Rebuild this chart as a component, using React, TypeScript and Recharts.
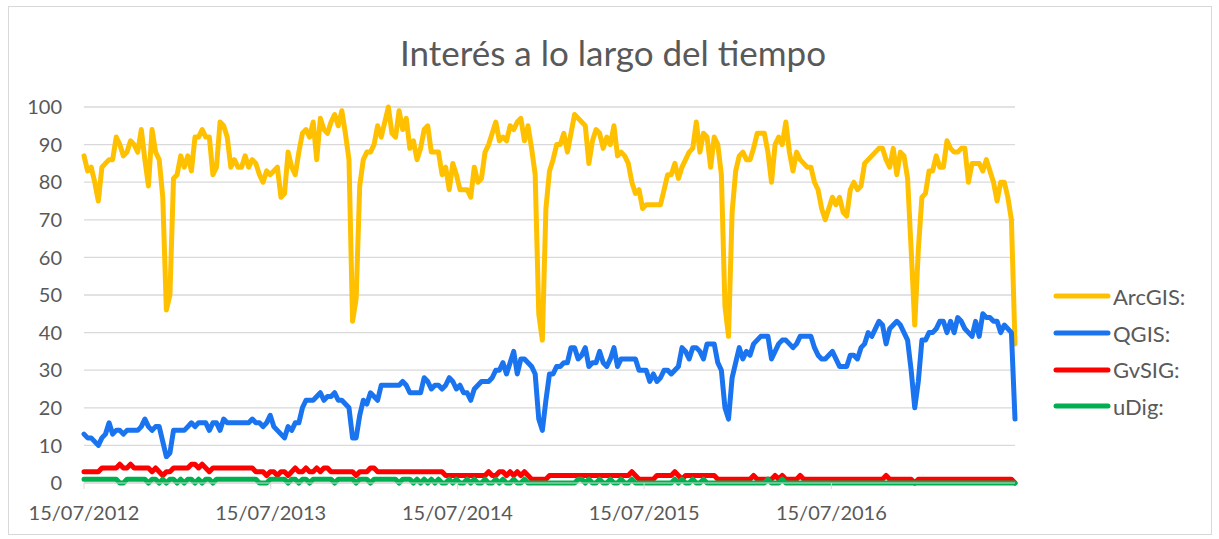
import React from 'react';
import { LineChart, Line, XAxis, YAxis, CartesianGrid } from 'recharts';

// weekly Google Trends style values, first week = 15/07/2012
const arcgis = [
  87, 83, 84, 80, 75, 84, 85, 86, 86, 92, 90, 87, 88, 91, 90, 88, 94, 86, 79, 94,
  88, 86, 76, 46, 50, 81, 82, 87, 84, 87, 83, 92, 92, 94, 92, 92, 82, 84, 96, 95,
  92, 84, 86, 84, 84, 87, 84, 86, 85, 82, 80, 83, 82, 83, 84, 76, 77, 88, 84, 82,
  88, 93, 94, 92, 96, 86, 97, 94, 93, 96, 98, 95, 99, 93, 86, 43, 49, 79, 86, 88,
  88, 90, 95, 92, 96, 100, 93, 92, 99, 94, 97, 89, 91, 86, 89, 94, 95, 88, 88, 88,
  82, 84, 78, 85, 82, 78, 78, 78, 76, 84, 80, 81, 88, 90, 93, 96, 91, 92, 91, 95,
  94, 96, 97, 91, 95, 89, 82, 45, 38, 73, 83, 86, 90, 90, 93, 88, 93, 98, 97, 96,
  95, 85, 91, 94, 93, 89, 92, 90, 95, 87, 88, 87, 85, 80, 77, 78, 73, 74, 74, 74,
  74, 74, 78, 82, 82, 85, 81, 84, 86, 88, 89, 96, 88, 93, 92, 84, 92, 90, 82, 47,
  39, 72, 83, 87, 88, 86, 86, 89, 93, 93, 93, 88, 80, 90, 92, 90, 96, 88, 83, 88,
  86, 85, 84, 84, 80, 78, 73, 70, 73, 76, 74, 76, 72, 71, 78, 80, 78, 79, 85, 86,
  87, 88, 89, 89, 86, 84, 89, 82, 88, 87, 81, 62, 42, 62, 76, 77, 83, 83, 87, 84,
  84, 91, 89, 88, 88, 89, 89, 80, 85, 85, 85, 83, 86, 83, 80, 75, 80, 80, 76, 70,
  37,
];

const qgis = [
  13, 12, 12, 11, 10, 12, 13, 16, 13, 14, 14, 13, 14, 14, 14, 14, 15, 17, 15, 14,
  15, 15, 11, 7, 8, 14, 14, 14, 14, 15, 16, 15, 16, 16, 16, 14, 16, 16, 14, 17,
  16, 16, 16, 16, 16, 16, 16, 17, 16, 16, 15, 16, 18, 15, 14, 13, 12, 15, 14, 16,
  16, 20, 22, 22, 22, 23, 24, 22, 23, 23, 24, 22, 22, 21, 20, 12, 12, 18, 22, 21,
  24, 23, 22, 26, 26, 26, 26, 26, 26, 27, 26, 24, 24, 24, 24, 28, 27, 25, 26, 26,
  25, 26, 28, 27, 25, 26, 24, 24, 22, 25, 26, 27, 27, 27, 28, 30, 30, 32, 29, 32,
  35, 29, 33, 33, 32, 31, 29, 17, 14, 22, 29, 29, 31, 31, 32, 32, 36, 36, 33, 34,
  36, 31, 32, 32, 35, 32, 31, 33, 36, 31, 33, 33, 33, 33, 33, 30, 30, 30, 27, 29,
  27, 28, 30, 30, 29, 30, 31, 36, 35, 33, 36, 36, 35, 33, 37, 37, 37, 32, 30, 20,
  17, 28, 32, 36, 33, 35, 34, 37, 38, 39, 39, 39, 33, 35, 37, 38, 38, 37, 36, 37,
  39, 39, 39, 39, 36, 34, 33, 33, 34, 35, 33, 31, 31, 31, 34, 34, 33, 36, 37, 40,
  39, 41, 43, 42, 37, 41, 42, 43, 42, 40, 38, 30, 20, 27, 38, 38, 40, 40, 41, 43,
  43, 40, 43, 40, 44, 43, 41, 40, 39, 43, 39, 45, 44, 44, 43, 43, 40, 42, 41, 40,
  17,
];

const gvsig = [
  3, 3, 3, 3, 3, 4, 4, 4, 4, 4, 5, 4, 4, 5, 4, 4, 4, 4, 4, 3,
  4, 3, 2, 3, 3, 4, 4, 4, 4, 4, 5, 5, 4, 5, 4, 3, 4, 4, 4, 4,
  4, 4, 4, 4, 4, 4, 4, 4, 3, 3, 3, 2, 3, 3, 2, 3, 3, 2, 3, 4,
  3, 3, 4, 3, 3, 4, 3, 4, 4, 3, 3, 3, 3, 3, 3, 3, 2, 3, 3, 3,
  4, 4, 3, 3, 3, 3, 3, 3, 3, 3, 3, 3, 3, 3, 3, 3, 3, 3, 3, 3,
  3, 2, 2, 2, 2, 2, 2, 2, 2, 2, 2, 2, 2, 3, 2, 2, 3, 3, 2, 3,
  2, 3, 2, 3, 2, 1, 1, 1, 1, 1, 2, 2, 2, 2, 2, 2, 2, 2, 2, 2,
  2, 2, 2, 2, 2, 2, 2, 2, 2, 2, 2, 2, 2, 3, 2, 1, 1, 1, 1, 1,
  2, 2, 2, 2, 2, 3, 2, 1, 2, 2, 2, 2, 2, 2, 2, 2, 2, 1, 1, 1,
  1, 1, 1, 1, 1, 1, 1, 2, 1, 1, 1, 1, 1, 2, 1, 2, 1, 1, 1, 1,
  2, 1, 1, 1, 1, 1, 1, 1, 1, 1, 1, 1, 1, 1, 1, 1, 1, 1, 1, 1,
  1, 1, 1, 1, 2, 1, 1, 1, 1, 1, 1, 1, 0, 1, 1, 1, 1, 1, 1, 1,
  1, 1, 1, 1, 1, 1, 1, 1, 1, 1, 1, 1, 1, 1, 1, 1, 1, 1, 1, 1,
  0,
];

const udig = [
  1, 1, 1, 1, 1, 1, 1, 1, 1, 1, 0, 0, 1, 1, 1, 1, 1, 1, 0, 1,
  1, 0, 1, 0, 1, 1, 0, 1, 0, 1, 1, 0, 1, 0, 1, 1, 0, 1, 1, 1,
  1, 1, 1, 1, 1, 1, 1, 1, 1, 0, 0, 0, 1, 1, 1, 1, 1, 0, 1, 1,
  0, 1, 1, 0, 1, 1, 1, 1, 1, 1, 0, 1, 1, 1, 1, 1, 0, 1, 1, 1,
  0, 1, 1, 1, 1, 1, 1, 1, 0, 1, 1, 1, 0, 1, 0, 1, 0, 1, 0, 1,
  0, 0, 1, 0, 1, 0, 0, 1, 0, 1, 0, 0, 1, 0, 0, 1, 0, 1, 0, 0,
  1, 0, 0, 1, 0, 0, 0, 0, 0, 0, 0, 0, 0, 0, 0, 0, 0, 0, 1, 1,
  0, 1, 0, 0, 1, 0, 0, 1, 0, 0, 1, 0, 0, 1, 0, 0, 0, 0, 0, 0,
  0, 0, 0, 0, 0, 1, 0, 1, 0, 0, 1, 0, 0, 1, 0, 0, 0, 0, 0, 0,
  0, 0, 0, 0, 0, 0, 0, 0, 0, 0, 0, 1, 0, 0, 0, 1, 0, 0, 0, 0,
  0, 0, 0, 0, 0, 0, 0, 0, 0, 0, 0, 0, 0, 0, 0, 0, 0, 0, 0, 0,
  0, 0, 0, 0, 0, 0, 0, 0, 0, 0, 0, 0, 0, 0, 0, 0, 0, 0, 0, 0,
  0, 0, 0, 0, 0, 0, 0, 0, 0, 0, 0, 0, 0, 0, 0, 0, 0, 0, 0, 0,
  0,
];

const firstWeek = '15/07/2012';
const xTickLabels = ['15/07/2012', '15/07/2013', '15/07/2014', '15/07/2015', '15/07/2016'];
const yTicks = [0, 10, 20, 30, 40, 50, 60, 70, 80, 90, 100];

const series = [
  { key: 'arcgis', name: 'ArcGIS:', color: '#FFC000' },
  { key: 'qgis', name: 'QGIS:', color: '#1A74F0' },
  { key: 'gvsig', name: 'GvSIG:', color: '#FF0000' },
  { key: 'udig', name: 'uDig:', color: '#00B050' },
];

const WEEK = 7 * 24 * 3600 * 1000;
const parseDate = (s: string) => {
  const [d, m, y] = s.split('/').map(Number);
  return Date.UTC(y, m - 1, d);
};
const fmtDate = (t: number) => {
  const d = new Date(t);
  const p = (n: number) => String(n).padStart(2, '0');
  return `${p(d.getUTCDate())}/${p(d.getUTCMonth() + 1)}/${d.getUTCFullYear()}`;
};

const t0 = parseDate(firstWeek);
const data = arcgis.map((v, i) => ({
  t: t0 + i * WEEK,
  arcgis: v,
  qgis: qgis[i],
  gvsig: gvsig[i],
  udig: udig[i],
}));
const xTicks = xTickLabels.map(parseDate);

const FONT = 'Lato, "Open Sans", sans-serif';
const TEXT = '#595959';
const GRID = '#D9D9D9';

export default function App() {
  return (
    <div style={{ position: 'absolute', left: 0, top: 0, width: 1219, height: 539, background: '#fff', fontFamily: FONT }}>
      <div style={{ position: 'absolute', left: 8, top: 6, width: 1202, height: 527, border: `1px solid ${GRID}` }} />
      <div style={{ position: 'absolute', left: 0, top: 30, width: 1226, textAlign: 'center', fontSize: 35, color: TEXT, lineHeight: '44px', fontWeight: 400 }}>
        Interés a lo largo del tiempo
      </div>
      <div style={{ position: 'absolute', left: 0, top: 0 }}>
        <LineChart width={1219} height={539} data={data} margin={{ top: 107, right: 204, bottom: 16, left: 24 }}>
          <CartesianGrid vertical={false} stroke={GRID} strokeWidth={1.3} />
          <XAxis
            dataKey="t"
            type="number"
            scale="time"
            domain={[data[0].t, data[data.length - 1].t]}
            ticks={xTicks}
            tickFormatter={fmtDate}
            height={40}
            stroke={GRID}
            tickSize={6}
            tickMargin={17}
            tick={{ fill: TEXT, fontSize: 20, fontFamily: FONT }}
            interval={0}
          />
          <YAxis
            domain={[0, 100]}
            ticks={yTicks}
            width={60}
            axisLine={false}
            tickLine={false}
            tickSize={6}
            tickMargin={16}
            tick={{ fill: TEXT, fontSize: 20, fontFamily: FONT }}
            interval={0}
          />
          {series.map((s) => (
            <Line
              key={s.key}
              dataKey={s.key}
              name={s.name}
              stroke={s.color}
              strokeWidth={5}
              strokeLinejoin="round"
              strokeLinecap="round"
              dot={false}
              activeDot={false}
              type="linear"
              isAnimationActive={false}
            />
          ))}
        </LineChart>
      </div>
      <div style={{ position: 'absolute', left: 1052, top: 278 }}>
        {series.map((s) => (
          <div key={s.key} style={{ display: 'flex', alignItems: 'center', height: 36.7 }}>
            <svg width={60} height={10}>
              <line x1={4} y1={5} x2={56} y2={5} stroke={s.color} strokeWidth={5} strokeLinecap="round" />
            </svg>
            <span style={{ fontSize: 22, color: TEXT, marginLeft: 1 }}>{s.name}</span>
          </div>
        ))}
      </div>
    </div>
  );
}
